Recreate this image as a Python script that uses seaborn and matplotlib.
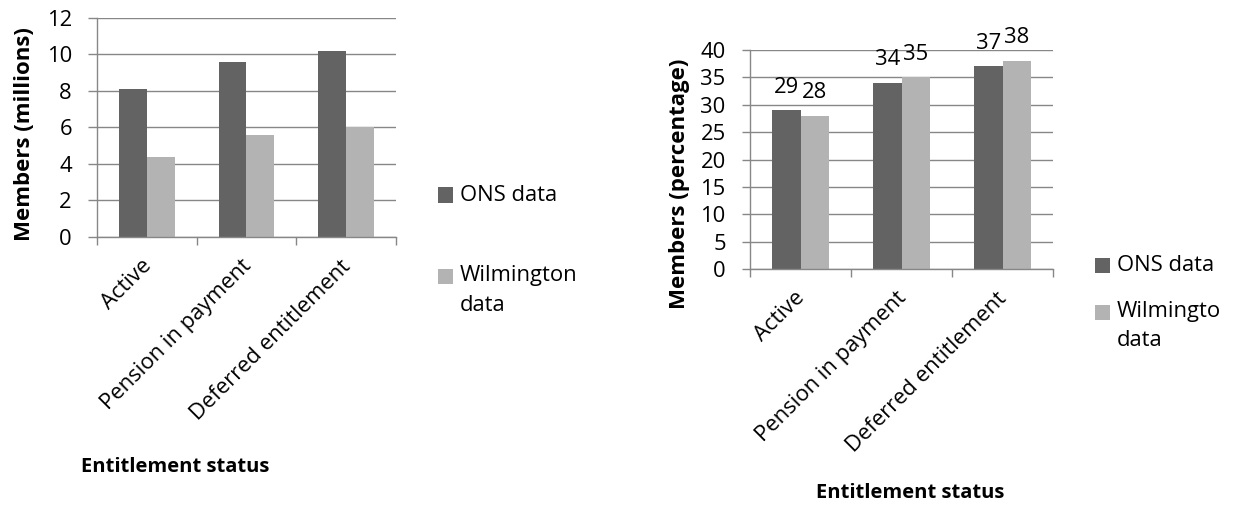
import matplotlib
matplotlib.use("Agg")
import matplotlib.pyplot as plt
import matplotlib.transforms as mtransforms
from matplotlib.patches import Rectangle
import seaborn as sns
import pandas as pd

# Pension scheme membership by entitlement status, two sources
categories = ["Active", "Pension in payment", "Deferred entitlement"]
series_names = ["ONS data", "Wilmington data"]
ons_millions = [8.1, 9.6, 10.2]
wilmington_millions = [4.4, 5.6, 6.0]
ons_percent = [29, 34, 37]
wilmington_percent = [28, 35, 38]
millions_ticks = [0, 2, 4, 6, 8, 10, 12]
percent_ticks = [0, 5, 10, 15, 20, 25, 30, 35, 40]

DARK = "#636363"
LIGHT = "#b3b3b3"
GRID = "#878787"

sns.set_theme(style="white")
plt.rcParams["font.family"] = ["Open Sans", "DejaVu Sans"]
FS = 15.8
FS_YLABEL = 16
FS_XLABEL = 14.5

W, H = 1245, 511
fig = plt.figure(figsize=(W / 100, H / 100), dpi=100)


def px_axes(x0, y_top, x1, y_bottom):
    return fig.add_axes([x0 / W, 1 - y_bottom / H, (x1 - x0) / W, (y_bottom - y_top) / H])


def long_frame(a, b):
    return pd.DataFrame({
        "status": categories * 2,
        "source": [series_names[0]] * 3 + [series_names[1]] * 3,
        "value": list(a) + list(b),
    })


def style_axes(ax, yticks, ytick_len, ylabel, ylabel_xy, xlabel_xy):
    ax.set_ylim(yticks[0], yticks[-1])
    ax.set_yticks(yticks)
    ax.set_xlim(-0.5, 2.5)
    ax.grid(axis="y", color=GRID, linewidth=1)
    ax.grid(axis="x", visible=False)
    ax.set_axisbelow(True)
    for side in ("top", "right"):
        ax.spines[side].set_visible(False)
    for side in ("left", "bottom"):
        ax.spines[side].set_color(GRID)
        ax.spines[side].set_linewidth(1)
    ax.tick_params(axis="y", which="major", length=ytick_len, width=1, color=GRID,
                   direction="out", left=True, labelsize=FS, pad=11.5, labelcolor="black")
    # category boundaries carry the x tick marks; labels sit at category centres
    ax.set_xticks([-0.5, 0.5, 1.5, 2.5], minor=True)
    ax.tick_params(axis="x", which="minor", length=6, width=1, color=GRID,
                   direction="out", bottom=True)
    ax.tick_params(axis="x", which="major", length=0, pad=13.5, labelsize=FS,
                   labelcolor="black")
    ax.set_xticks(range(len(categories)))
    ax.set_xticklabels(categories)
    offset = mtransforms.ScaledTranslation(-6 / 100, 0, fig.dpi_scale_trans)
    for lab in ax.get_xticklabels():
        lab.set_rotation(45)
        lab.set_ha("right")
        lab.set_va("top")
        lab.set_rotation_mode("anchor")
        lab.set_transform(lab.get_transform() + offset)
    ax.set_xlabel("Entitlement status", fontsize=FS_XLABEL, fontweight="bold", color="black")
    ax.xaxis.label.set_va("center")
    ax.xaxis.set_label_coords(*xlabel_xy)
    ax.set_ylabel(ylabel, fontsize=FS_YLABEL, fontweight="bold", color="black")
    ax.yaxis.label.set_va("center")
    ax.yaxis.set_label_coords(*ylabel_xy)
    leg = ax.get_legend()
    if leg is not None:
        leg.remove()


def draw_legend(x_sq, rows, clip_after=None):
    # rows: (square centre y, [(text, centre y), ...], colour)
    texts = []
    for yc, lines, color in rows:
        fig.patches.append(Rectangle((x_sq / W, 1 - (yc + 7.5) / H), 15 / W, 15 / H,
                                     transform=fig.transFigure, facecolor=color,
                                     edgecolor="none"))
        for txt, ty in lines:
            texts.append(fig.text((x_sq + 22) / W, 1 - ty / H, txt, fontsize=FS,
                                  color="black", ha="left", va="center"))
    if clip_after is not None:
        # the legend box is narrower than the longest entry: cut the text at its edge
        renderer = fig.canvas.get_renderer()
        probe = fig.text((x_sq + 22) / W, 0.5, clip_after, fontsize=FS)
        right = probe.get_window_extent(renderer).x1 + 1
        probe.remove()
        for t in texts:
            t.set_clip_box(mtransforms.Bbox.from_extents(0, 0, right, H))
            t.set_clip_on(True)


# left panel: members in millions
ax1 = px_axes(97, 18, 396, 237)
sns.barplot(data=long_frame(ons_millions, wilmington_millions), x="status", y="value",
            hue="source", hue_order=series_names, palette=[DARK, LIGHT], width=0.56,
            saturation=1, ax=ax1, errorbar=None, linewidth=0)
style_axes(ax1, millions_ticks, 6.5, "Members (millions)", (-0.244, 0.47), (0.261, -1.05))

# right panel: members as a percentage, with value labels
ax2 = px_axes(750, 50, 1053, 269)
sns.barplot(data=long_frame(ons_percent, wilmington_percent), x="status", y="value",
            hue="source", hue_order=series_names, palette=[DARK, LIGHT], width=0.56,
            saturation=1, ax=ax2, errorbar=None, linewidth=0)
style_axes(ax2, percent_ticks, 6, "Members (percentage)", (-0.234, 0.388), (0.528, -1.023))
for cont in ax2.containers:
    ax2.bar_label(cont, fmt="%g", padding=9, fontsize=FS, color="black")

draw_legend(438, [(195, [("ONS data", 195)], DARK),
                  (276, [("Wilmington", 276), ("data", 305)], LIGHT)])
draw_legend(1095, [(265, [("ONS data", 265)], DARK),
                   (312, [("Wilmington", 312), ("data", 340)], LIGHT)],
            clip_after="Wilmingto")

fig.savefig("out.png", dpi=100)
